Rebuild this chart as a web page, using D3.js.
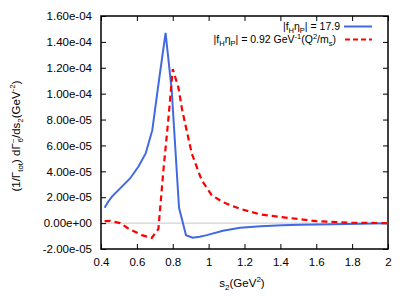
<!DOCTYPE html>
<html><head><meta charset="utf-8">
<script src="https://cdn.jsdelivr.net/npm/d3@7"></script>
<style>body{margin:0;background:#fff}svg{display:block}text{font-family:"Liberation Sans",Arial,sans-serif}</style>
</head><body>
<svg id="c" width="417" height="306"></svg>
<script>
const xTicks = [0.4,0.6,0.8,1,1.2,1.4,1.6,1.8,2];
const yTicks = [-2e-5,0,2e-5,4e-5,6e-5,8e-5,1e-4,1.2e-4,1.4e-4,1.6e-4];
const blueX = [0.42,0.44,0.46,0.49,0.515,0.562,0.608,0.649,0.686,0.723,0.76,0.794,0.835,0.874,0.911,0.95,0.99,1.08,1.175,1.29,1.41,1.51,1.69,1.85,2.0];
const blueY = [1.18e-5,1.65e-5,2.03e-5,2.45e-5,2.8e-5,3.45e-5,4.35e-5,5.38e-5,7.18e-5,1.10e-4,1.47e-4,1.03e-4,1.18e-5,-9.3e-6,-1.13e-5,-1.06e-5,-9.3e-6,-5.9e-6,-3.6e-6,-2.4e-6,-1.7e-6,-1.3e-6,-0.8e-6,-0.4e-6,-0.1e-6];
const redX = [0.42,0.45,0.506,0.552,0.627,0.683,0.72,0.748,0.775,0.80,0.831,0.853,0.906,0.961,1.017,1.082,1.175,1.29,1.41,1.60,1.78,2.0];
const redY = [1.5e-6,1.8e-6,0,-4.1e-6,-9.3e-6,-1.15e-5,-4.5e-6,4.1e-5,7.95e-5,1.19e-4,1.05e-4,8.7e-5,5.38e-5,3.32e-5,2.16e-5,1.6e-5,1.1e-5,6.7e-6,4.6e-6,1.5e-6,0.3e-6,0];

const svg = d3.select("#c");
const L=101,R=388,T=16,B=249;
const x = d3.scaleLinear().domain([0.4,2]).range([L,R]);
const y = d3.scaleLinear().domain([-2e-5,1.6e-4]).range([B,T]);
function fmt(v){
  if(v===0) return "0.00e+00";
  let e=Math.floor(Math.log10(Math.abs(v))+1e-9);
  let m=v/Math.pow(10,e);
  if(Math.abs(m)>=9.995){m/=10;e+=1;}
  const s=e<0?"-":"+";
  return m.toFixed(2)+"e"+s+String(Math.abs(e)).padStart(2,"0");
}
svg.append("line").attr("x1",L).attr("x2",R).attr("y1",y(0)).attr("y2",y(0)).attr("stroke","#c8c8c8").attr("stroke-width",1);

const ax = svg.append("g").attr("transform",`translate(0,${B})`).call(d3.axisBottom(x).tickValues(xTicks).tickSizeInner(-5).tickSizeOuter(0).tickPadding(9).tickFormat(d3.format("")));
const axT = svg.append("g").attr("transform",`translate(0,${T})`).call(d3.axisTop(x).tickValues(xTicks).tickSizeInner(-5).tickSizeOuter(0).tickFormat(""));
const ay = svg.append("g").attr("transform",`translate(${L},0)`).call(d3.axisLeft(y).tickValues(yTicks).tickSizeInner(-5).tickSizeOuter(0).tickPadding(9).tickFormat(fmt));
const ayR = svg.append("g").attr("transform",`translate(${R},0)`).call(d3.axisRight(y).tickValues(yTicks).tickSizeInner(-5).tickSizeOuter(0).tickFormat(""));
[ax,axT,ay,ayR].forEach(g=>{g.select(".domain").remove();g.selectAll("line").attr("stroke","#000");g.selectAll("text").attr("font-size",11.5).attr("fill","#000").attr("font-family","Liberation Sans, Arial, sans-serif");});
svg.append("rect").attr("x",L).attr("y",T).attr("width",R-L).attr("height",B-T).attr("fill","none").attr("stroke","#000").attr("stroke-width",1.5);

const line = d3.line().x(d=>x(d[0])).y(d=>y(d[1]));
svg.append("path").datum(blueX.map((v,i)=>[v,blueY[i]])).attr("d",line).attr("fill","none").attr("stroke","#4169e1").attr("stroke-width",2);
svg.append("path").datum(redX.map((v,i)=>[v,redY[i]])).attr("d",line).attr("fill","none").attr("stroke","#ff0000").attr("stroke-width",2.2).attr("stroke-dasharray","6,4");

const xl = svg.append("text").attr("x",242).attr("y",287).attr("text-anchor","middle").attr("font-size",11.5);
xl.append("tspan").text("s");
xl.append("tspan").attr("font-size",8).attr("dy",3).text("2");
xl.append("tspan").attr("dy",-3).text("(GeV");
xl.append("tspan").attr("font-size",8).attr("dy",-5).text("2");
xl.append("tspan").attr("dy",5).text(")");

const yl = svg.append("text").attr("transform","translate(20,136) rotate(-90)").attr("text-anchor","middle").attr("font-size",11.5);
yl.append("tspan").text("(1/Γ");
yl.append("tspan").attr("font-size",8).attr("dy",3).text("tot");
yl.append("tspan").attr("dy",-3).text(") dΓ");
yl.append("tspan").attr("font-size",8).attr("dy",-4).text("~");
yl.append("tspan").attr("font-size",8).attr("dy",7).attr("dx",-4).text("6");
yl.append("tspan").attr("dy",-3).text("/ds");
yl.append("tspan").attr("font-size",8).attr("dy",3).text("2");
yl.append("tspan").attr("dy",-3).text("(GeV");
yl.append("tspan").attr("font-size",8).attr("dy",-5).text("-2");
yl.append("tspan").attr("dy",5).text(")");

const fs=10.5, sfs=7.5;
const l1 = svg.append("text").attr("x",340).attr("y",30).attr("text-anchor","end").attr("font-size",fs);
l1.append("tspan").text("|f");
l1.append("tspan").attr("font-size",sfs).attr("dy",2.5).text("H");
l1.append("tspan").attr("dy",-2.5).text("η");
l1.append("tspan").attr("font-size",sfs).attr("dy",2.5).text("P");
l1.append("tspan").attr("dy",-2.5).text("| = 17.9");
svg.append("line").attr("x1",344).attr("x2",372).attr("y1",26.5).attr("y2",26.5).attr("stroke","#4169e1").attr("stroke-width",2);
const l2 = svg.append("text").attr("x",336).attr("y",43).attr("text-anchor","end").attr("font-size",fs);
l2.append("tspan").text("|f");
l2.append("tspan").attr("font-size",sfs).attr("dy",2.5).text("H");
l2.append("tspan").attr("dy",-2.5).text("η");
l2.append("tspan").attr("font-size",sfs).attr("dy",2.5).text("P");
l2.append("tspan").attr("dy",-2.5).text("| = 0.92 GeV");
l2.append("tspan").attr("font-size",sfs).attr("dy",-4).text("-1");
l2.append("tspan").attr("dy",4).text("(Q");
l2.append("tspan").attr("font-size",sfs).attr("dy",-4).text("2");
l2.append("tspan").attr("dy",4).text("/m");
l2.append("tspan").attr("font-size",sfs).attr("dy",2.5).text("s");
l2.append("tspan").attr("dy",-2.5).text(")");
svg.append("line").attr("x1",345).attr("x2",372).attr("y1",39.5).attr("y2",39.5).attr("stroke","#ff0000").attr("stroke-width",2.2).attr("stroke-dasharray","5,3");
</script>
</body></html>
